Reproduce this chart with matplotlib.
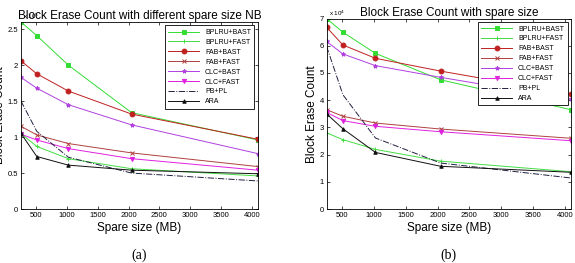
import matplotlib
matplotlib.use("Agg")
import matplotlib.pyplot as plt
from matplotlib.ticker import FuncFormatter

plt.rcParams['font.family'] = ['Liberation Sans', 'DejaVu Sans']

spare = [256, 512, 1024, 2048, 4096]
names = ['BPLRU+BAST', 'BPLRU+FAST', 'FAB+BAST', 'FAB+FAST',
         'CLC+BAST', 'CLC+FAST', 'PB+PL', 'ARA']

# (a) values x 10^5
a_bplru_bast = [2.60, 2.41, 2.00, 1.34, 0.96]
a_bplru_fast = [1.05, 0.87, 0.70, 0.56, 0.46]
a_fab_bast = [2.06, 1.88, 1.64, 1.32, 0.97]
a_fab_fast = [1.15, 1.03, 0.91, 0.78, 0.59]
a_clc_bast = [1.83, 1.68, 1.45, 1.17, 0.77]
a_clc_fast = [1.04, 0.96, 0.84, 0.70, 0.54]
a_pb_pl = [1.50, 1.08, 0.72, 0.50, 0.39]
a_ara = [1.05, 0.73, 0.61, 0.54, 0.49]

# (b) values x 10^4
b_bplru_bast = [7.00, 6.50, 5.72, 4.75, 3.65]
b_bplru_fast = [2.80, 2.55, 2.19, 1.76, 1.37]
b_fab_bast = [6.68, 6.03, 5.54, 5.07, 4.23]
b_fab_fast = [3.65, 3.41, 3.16, 2.94, 2.60]
b_clc_bast = [6.16, 5.70, 5.27, 4.84, 4.04]
b_clc_fast = [3.55, 3.25, 3.04, 2.84, 2.51]
b_pb_pl = [5.98, 4.20, 2.61, 1.69, 1.14]
b_ara = [3.50, 2.95, 2.08, 1.57, 1.35]

styles = [
    dict(color='#33dd33', marker='s', ms=3.5, ls='-'),
    dict(color='#44dd44', marker='+', ms=3.5, ls='-'),
    dict(color='#c02020', marker='o', ms=3.5, ls='-'),
    dict(color='#b04040', marker='x', ms=2.5, ls='-'),
    dict(color='#b040e0', marker='*', ms=3.0, ls='-'),
    dict(color='#e020e0', marker='v', ms=3.0, ls='-'),
    dict(color='#202040', marker='', ms=0, ls='-.'),
    dict(color='#101010', marker='^', ms=2.5, ls='-'),
]

fig = plt.figure(figsize=(5.75, 2.63), dpi=100)
ax1 = fig.add_axes([0.0365, 0.2053, 0.412, 0.711])
ax2 = fig.add_axes([0.568, 0.2053, 0.425, 0.724])

fmt = FuncFormatter(lambda v, p: '%g' % v)


def draw(ax, series, ymax, yticks, title, exp, tag):
    for name, ys, st in zip(names, series, styles):
        ax.plot(spare, ys, label=name, lw=0.7, mew=0.7, **st)
    ax.set_xlim(256, 4096)
    ax.set_ylim(0, ymax)
    ax.set_xticks(range(500, 4001, 500))
    ax.set_yticks(yticks)
    ax.yaxis.set_major_formatter(fmt)
    ax.tick_params(direction='in', labelsize=5.5, length=2, width=0.5,
                   top=True, right=True, pad=2)
    for s in ax.spines.values():
        s.set_linewidth(0.6)
    ax.set_title(title, fontsize=8.5, pad=2)
    ax.set_xlabel('Spare size (MB)', fontsize=8.5, labelpad=2)
    ax.set_ylabel('Block Erase Count', fontsize=8.5, labelpad=1)
    ax.text(0.01, 1.005, r'x 10$^{%d}$' % exp, transform=ax.transAxes,
            fontsize=4.5, va='bottom')
    ax.text(0.5, -0.245, tag, transform=ax.transAxes, fontsize=10,
            ha='center', va='center', family='Liberation Serif')
    leg = ax.legend(loc='upper right', fontsize=5.0, handlelength=4.5,
                    labelspacing=0.42, borderpad=0.5, fancybox=False,
                    edgecolor='black', framealpha=1)
    leg.get_frame().set_linewidth(0.6)


draw(ax1, [a_bplru_bast, a_bplru_fast, a_fab_bast, a_fab_fast,
           a_clc_bast, a_clc_fast, a_pb_pl, a_ara],
     2.6, [0, 0.5, 1, 1.5, 2, 2.5],
     'Block Erase Count with different spare size NB', 5, '(a)')
draw(ax2, [b_bplru_bast, b_bplru_fast, b_fab_bast, b_fab_fast,
           b_clc_bast, b_clc_fast, b_pb_pl, b_ara],
     7, range(0, 8),
     'Block Erase Count with spare size', 4, '(b)')

fig.savefig('out.png', dpi=100)
